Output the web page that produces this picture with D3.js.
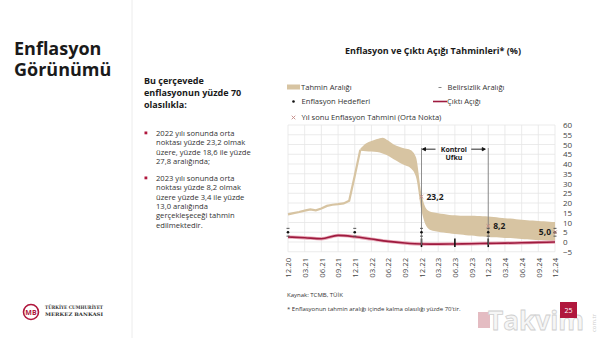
<!DOCTYPE html>
<html><head><meta charset="utf-8">
<script src="https://cdn.jsdelivr.net/npm/d3@7"></script>
<style>
html,body{margin:0;padding:0;background:#fff;}
svg{display:block;font-family:"Open Sans",sans-serif;}
</style></head>
<body>
<script>
// ---------- DATA ----------
const quarterLabels = ["12.20","03.21","06.21","09.21","12.21","03.22","06.22","09.22","12.22","03.23","06.23","09.23","12.23","03.24","06.24","09.24","12.24"];
const yTicks = [60,55,50,45,40,35,30,25,20,15,10,5,0,-5];

// realised inflation (monthly, month 0 = 12.20)
const realizedMonths = [0,1,2,3,4,5,6,7,8,9,10,11,12,13];
const realizedValues = [14.2,14.8,15.4,16.1,16.7,16.2,17.2,18.5,19.1,19.4,19.8,21.2,34.0,47.3];

// forecast band (monthly)
const bandMonths = d3.range(13,49);
const bandUpper = [47.8,50.5,51.8,52.8,53.5,52.0,50.0,48.8,47.9,47.2,43.5,24.5,16.6,15.3,14.8,14.3,13.9,13.7,13.5,13.4,13.4,13.3,13.2,13.1,12.8,12.5,12.2,12.0,11.7,11.4,11.2,11.0,10.8,10.6,10.4,10.2];
const bandLower = [46.8,46.6,46.4,46.1,45.4,44.2,42.4,40.8,39.3,38.0,33.5,16.0,7.6,5.8,5.3,4.9,4.5,4.1,3.8,3.5,3.3,3.0,2.8,2.6,2.4,2.3,2.1,2.0,1.8,1.6,1.4,1.2,1.0,0.9,0.7,0.5];

// output gap (quarterly)
const gapMonths = d3.range(0,49,3);
const gapValues = [2.6,2.2,1.7,3.4,2.7,1.5,0.3,-0.5,-1.0,-1.1,-1.0,-0.9,-0.7,-0.6,-0.4,-0.2,0.0];

// inflation targets with uncertainty
const targetMonths = [0,12,24,36,48];
const targetValues = [5,5,5,5,5];
const targetBand = 2;

// year-end forecasts (mid point)
const forecastMonths = [24,36,48];
const forecastValues = [23.2,8.2,5.0];
const forecastLabels = ["23,2","8,2","5,0"];

// black markers near zero line
const barMonths = [24,30,36];

// control horizon
const horizonMonths = [24,36];

// ---------- DRAW ----------
const W=600,H=338;
const svg=d3.select("body").append("svg").attr("width",W).attr("height",H);

const x=d3.scaleLinear().domain([0,48]).range([288,555]);
const y=d3.scaleLinear().domain([-5,60]).range([251.75,125]);

const tan="#d7c4a2", red="#9e1a3e", txt="#333";

// left panel
svg.append("line").attr("x1",132).attr("x2",132).attr("y1",0).attr("y2",H).attr("stroke","#ececec").attr("stroke-width",1);
const head=svg.append("text").attr("font-size",18).attr("font-weight",700).attr("fill","#1a1a1a");
head.append("tspan").attr("x",14).attr("y",55).text("Enflasyon");
head.append("tspan").attr("x",14).attr("y",76).text("Görünümü");

const sub=["Bu çerçevede","enflasyonun yüzde 70","olasılıkla:"];
sub.forEach((s,i)=>svg.append("text").attr("x",144).attr("y",84+i*11.8).attr("font-size",9).attr("font-weight",700).attr("fill","#1a1a1a").text(s));

const bullets=[
 ["2022 yılı sonunda orta","noktası yüzde 23,2 olmak","üzere, yüzde 18,6 ile yüzde","27,8 aralığında;"],
 ["2023 yılı sonunda orta","noktası yüzde 8,2 olmak","üzere yüzde 3,4 ile yüzde","13,0 aralığında","gerçekleşeceği tahmin","edilmektedir."]];
const bStart=[136,181];
bullets.forEach((lines,bi)=>{
  svg.append("rect").attr("x",144.5).attr("y",bStart[bi]-4.5).attr("width",2.8).attr("height",2.8).attr("fill","#b0173d");
  lines.forEach((l,i)=>svg.append("text").attr("x",156).attr("y",bStart[bi]+i*9.3).attr("font-size",7.6).attr("fill",txt).text(l));
});

// title
svg.append("text").attr("x",433).attr("y",54).attr("text-anchor","middle").attr("font-size",9).attr("font-weight",700).attr("fill","#1a1a1a").text("Enflasyon ve Çıktı Açığı Tahminleri* (%)");

// legend
const lg=svg.append("g").attr("font-size",7.6).attr("fill",txt);
lg.append("rect").attr("x",287).attr("y",84.5).attr("width",13).attr("height",5).attr("fill",tan);
lg.append("text").attr("x",301).attr("y",90).text("Tahmin Aralığı");
lg.append("line").attr("x1",438.5).attr("x2",441.5).attr("y1",87.5).attr("y2",87.5).attr("stroke","#888").attr("stroke-width",1);
lg.append("text").attr("x",447.5).attr("y",90).text("Belirsizlik Aralığı");
lg.append("circle").attr("cx",293.5).attr("cy",101.5).attr("r",1.3).attr("fill","#111");
lg.append("text").attr("x",301.5).attr("y",104).text("Enflasyon Hedefleri");
lg.append("line").attr("x1",433).attr("x2",447).attr("y1",101.5).attr("y2",101.5).attr("stroke",red).attr("stroke-width",1.6);
lg.append("text").attr("x",447).attr("y",104).text("Çıktı Açığı");
lg.append("path").attr("d","M291.7,115.7L295.3,119.3M291.7,119.3L295.3,115.7").attr("stroke","#c48a86").attr("stroke-width",0.9);
lg.append("text").attr("x",301.5).attr("y",120).text("Yıl sonu Enflasyon Tahmini (Orta Nokta)");

// grid
const grid=svg.append("g").attr("stroke","#e6e6e6").attr("stroke-width",0.8);
yTicks.forEach(t=>grid.append("line").attr("x1",x(0)).attr("x2",x(48)).attr("y1",y(t)).attr("y2",y(t)));
quarterLabels.forEach((q,i)=>grid.append("line").attr("x1",x(i*3)).attr("x2",x(i*3)).attr("y1",y(60)).attr("y2",y(-5)));

// axes
const yAxis=d3.axisRight(y).tickValues(yTicks).tickSize(0).tickPadding(0).tickFormat(d3.format("d"));
const ya=svg.append("g").attr("transform",`translate(${x(48)+8},0)`).call(yAxis);
ya.select(".domain").remove();
ya.selectAll("text").attr("font-size",8).attr("fill","#444").attr("font-family","Open Sans");

const xAxis=d3.axisBottom(x).tickValues(d3.range(0,49,3)).tickSize(0).tickPadding(0).tickFormat((d,i)=>quarterLabels[i]);
const xa=svg.append("g").attr("transform",`translate(0,${y(-5)+6})`).call(xAxis);
xa.select(".domain").remove();
xa.selectAll("text").attr("font-size",7.8).attr("fill","#444").attr("font-family","Open Sans")
  .attr("text-anchor","end").attr("dy","0.35em").attr("dx",0).attr("y",0).attr("transform","rotate(-90)").attr("x",0);

// band
const area=d3.area().x((d,i)=>x(bandMonths[i])).y0((d,i)=>y(bandLower[i])).y1((d,i)=>y(bandUpper[i])).curve(d3.curveMonotoneX);
svg.append("path").datum(bandMonths).attr("d",area).attr("fill",tan);
const rl=d3.line().x((d,i)=>x(realizedMonths[i])).y((d,i)=>y(realizedValues[i]));
svg.append("path").datum(realizedMonths).attr("d",rl).attr("fill","none").attr("stroke",tan).attr("stroke-width",2.2);

// output gap
const gl=d3.line().x((d,i)=>x(gapMonths[i])).y((d,i)=>y(gapValues[i])).curve(d3.curveMonotoneX);
svg.append("path").datum(gapMonths).attr("d",gl).attr("fill","none").attr("stroke","#e8a9b8").attr("stroke-width",3.4);
svg.append("path").datum(gapMonths).attr("d",gl).attr("fill","none").attr("stroke",red).attr("stroke-width",1.6);

// black bars
barMonths.forEach(m=>svg.append("line").attr("x1",x(m)).attr("x2",x(m)).attr("y1",y(1.8)).attr("y2",y(-2.6)).attr("stroke","#111").attr("stroke-width",1.6));

// control horizon
horizonMonths.forEach(m=>svg.append("line").attr("x1",x(m)).attr("x2",x(m)).attr("y1",y(48.2)).attr("y2",y(-1.5)).attr("stroke","#777").attr("stroke-width",0.8));
const hy=y(47.6);
const ah=svg.append("g").attr("stroke","#111").attr("stroke-width",0.9);
ah.append("line").attr("x1",x(24)+1).attr("x2",x(24)+14).attr("y1",hy).attr("y2",hy);
ah.append("path").attr("d",`M${x(24)+1},${hy} l3,-1.6 l0,3.2 z`).attr("fill","#111");
ah.append("line").attr("x1",x(36)-17).attr("x2",x(36)-3).attr("y1",hy).attr("y2",hy);
ah.append("path").attr("d",`M${x(36)-3},${hy} l-3,-1.6 l0,3.2 z`).attr("fill","#111");
svg.append("text").attr("x",(x(24)+x(36))/2-1).attr("y",hy+2.5).attr("text-anchor","middle").attr("font-size",7).attr("font-weight",700).attr("fill","#1a1a1a").text("Kontrol");
svg.append("text").attr("x",(x(24)+x(36))/2-1).attr("y",hy+11).attr("text-anchor","middle").attr("font-size",7).attr("font-weight",700).attr("fill","#1a1a1a").text("Ufku");

// targets
targetMonths.forEach((m,i)=>{
  const v=targetValues[i];
  svg.append("line").attr("x1",x(m)-1.5).attr("x2",x(m)+1.5).attr("y1",y(v+targetBand)).attr("y2",y(v+targetBand)).attr("stroke","#555").attr("stroke-width",1);
  svg.append("line").attr("x1",x(m)-1.5).attr("x2",x(m)+1.5).attr("y1",y(v-targetBand)).attr("y2",y(v-targetBand)).attr("stroke","#555").attr("stroke-width",1);
  svg.append("circle").attr("cx",x(m)).attr("cy",y(v)).attr("r",1.3).attr("fill","#111");
});

// year-end forecasts
forecastMonths.forEach((m,i)=>{
  const cx=x(m), cy=y(forecastValues[i]);
  svg.append("path").attr("d",`M${cx-1.8},${cy-1.8}L${cx+1.8},${cy+1.8}M${cx-1.8},${cy+1.8}L${cx+1.8},${cy-1.8}`).attr("stroke","#c48a86").attr("stroke-width",0.9);
  const last=i===forecastMonths.length-1;
  svg.append("text").attr("x",last?cx-4:cx+5).attr("y",cy+3).attr("text-anchor",last?"end":"start")
    .attr("font-size",8.5).attr("font-weight",700).attr("fill","#1a1a1a").text(forecastLabels[i]);
});

// footnotes
svg.append("text").attr("x",287).attr("y",297).attr("font-size",6).attr("fill",txt).text("Kaynak: TCMB, TÜİK");
svg.append("text").attr("x",287).attr("y",311).attr("font-size",6).attr("fill",txt).text("* Enflasyonun tahmin aralığı içinde kalma olasılığı yüzde 70'tir.");

// logo
const lo=svg.append("g");
lo.append("circle").attr("cx",31).attr("cy",312).attr("r",7.5).attr("fill","none").attr("stroke","#b0173d").attr("stroke-width",1.6);
lo.append("text").attr("x",31).attr("y",315).attr("text-anchor","middle").attr("font-size",7).attr("font-weight",700).attr("fill","#b0173d").text("MB");
lo.append("text").attr("x",45).attr("y",309).attr("font-size",4.8).attr("font-weight",700).attr("fill","#333").attr("font-family","DejaVu Serif").attr("textLength",58).attr("lengthAdjust","spacingAndGlyphs").text("TÜRKİYE CUMHURİYET");
lo.append("text").attr("x",45).attr("y",316).attr("font-size",4.8).attr("font-weight",700).attr("fill","#333").attr("font-family","DejaVu Serif").attr("textLength",58).attr("lengthAdjust","spacingAndGlyphs").text("MERKEZ BANKASI");

// watermark + page number
svg.append("rect").attr("x",478).attr("y",312).attr("width",12).attr("height",16).attr("fill","#d9a0a8").attr("opacity",0.7);
svg.append("text").attr("x",488).attr("y",330).attr("font-size",27).attr("font-weight",700).attr("fill","#f6f6f6").attr("stroke","#cfcfcf").attr("stroke-width",0.8).attr("textLength",96).attr("lengthAdjust","spacingAndGlyphs").text("Takvim");
svg.append("text").attr("transform","translate(596,332) rotate(-90)").attr("font-size",6).attr("fill","#ccc").text("com.tr");
svg.append("rect").attr("x",560).attr("y",302).attr("width",17).attr("height",16).attr("fill","#b0173d");
svg.append("text").attr("x",568.5).attr("y",312.5).attr("text-anchor","middle").attr("font-size",7).attr("fill","#fff").text("25");
</script>
</body></html>
